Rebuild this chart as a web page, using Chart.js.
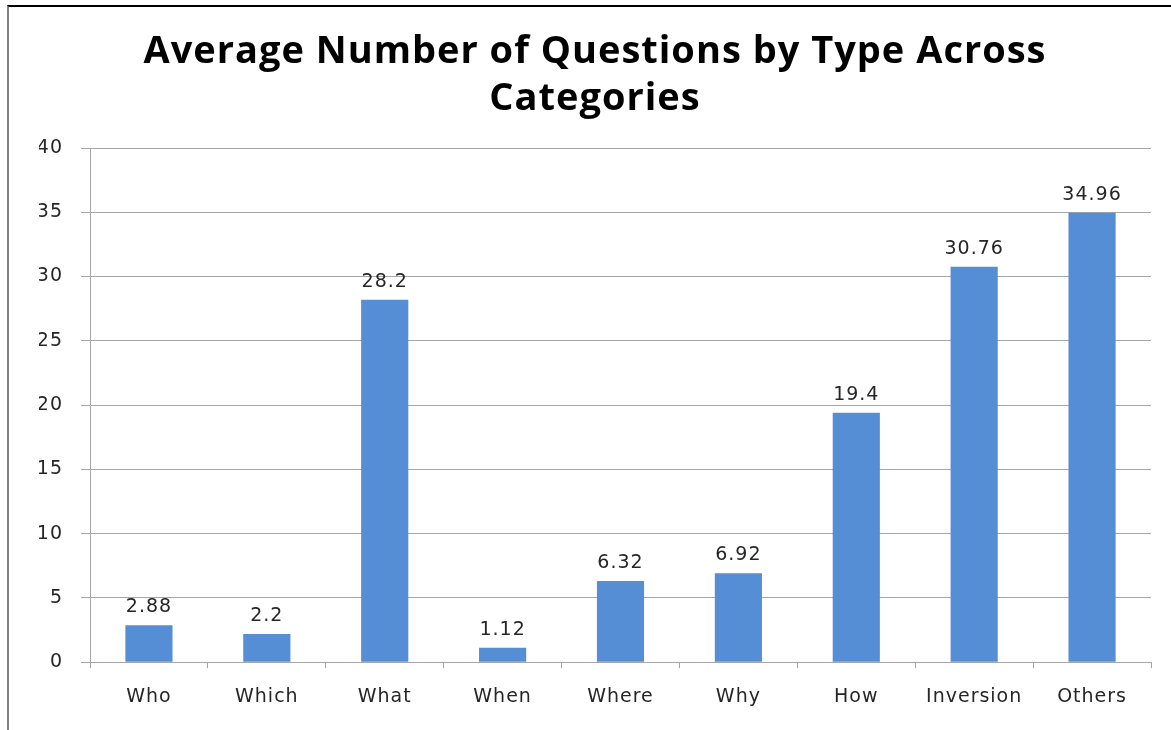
<!DOCTYPE html>
<html lang="en">
<head>
    <meta charset="UTF-8">
    <title>Average Number of Questions by Type Across Categories</title>
    <script src="https://cdn.jsdelivr.net/npm/chart.js"></script>
    <style>
        body {
            margin: 0;
            background-color: #ffffff;
        }
        #wrap {
            position: relative;
            width: 1171px;
            height: 730px;
            overflow: hidden;
        }
        #frame {
            position: absolute;
            left: 7px;
            top: 5px;
            right: 0;
            bottom: 0;
            border-top: 2px solid #000000;
            border-left: 2px solid #808080;
            pointer-events: none;
        }
        canvas {
            position: absolute;
            left: 0;
            top: 0;
        }
    </style>
</head>
<body>
<div id="wrap">
    <canvas id="myChart" width="1171" height="730"></canvas>
    <div id="frame"></div>
</div>

<script>
    const categorias = ['Who', 'Which', 'What', 'When', 'Where', 'Why', 'How', 'Inversion', 'Others'];
    const medias = [2.88, 2.2, 28.2, 1.12, 6.32, 6.92, 19.4, 30.76, 34.96];
    const yTicks = [0, 5, 10, 15, 20, 25, 30, 35, 40];
    const titulo = ['Average Number of Questions by Type Across', 'Categories'];

    const corBarra = '#558ed5';
    const corTexto = '#262626';
    const corGrade = '#a6a6a6';
    const fonteTexto = "'DejaVu Sans', Verdana, sans-serif";

    // espaçamento entre letras para se aproximar da fonte original
    const espacamento = {
        id: 'espacamento',
        beforeUpdate(chart) { chart.ctx.letterSpacing = '1px'; },
        beforeDraw(chart) { chart.ctx.letterSpacing = '1px'; }
    };

    // rótulos de valor acima de cada barra
    const rotulosValor = {
        id: 'rotulosValor',
        afterDatasetsDraw(chart) {
            const ctx = chart.ctx;
            const meta = chart.getDatasetMeta(0);
            ctx.save();
            ctx.letterSpacing = '1px';
            ctx.font = '19px ' + fonteTexto;
            ctx.fillStyle = corTexto;
            ctx.textAlign = 'center';
            ctx.textBaseline = 'alphabetic';
            meta.data.forEach((bar, i) => {
                ctx.fillText(String(medias[i]), bar.x, bar.y - 13);
            });
            ctx.restore();
        }
    };

    const ctx = document.getElementById('myChart').getContext('2d');

    new Chart(ctx, {
        type: 'bar',
        data: {
            labels: categorias,
            datasets: [{
                data: medias,
                backgroundColor: corBarra,
                borderWidth: 0,
                categoryPercentage: 0.4,
                barPercentage: 1.0
            }]
        },
        options: {
            responsive: false,
            animation: false,
            layout: {
                padding: { left: 39, right: 20, top: 0, bottom: 5 }
            },
            plugins: {
                legend: { display: false },
                tooltip: { enabled: false },
                title: {
                    display: true,
                    text: titulo,
                    color: '#000000',
                    font: { family: "'Open Sans', sans-serif", size: 38, weight: 'bold', lineHeight: 1.237 },
                    padding: { top: 29, bottom: 25 }
                }
            },
            scales: {
                x: {
                    offset: true,
                    grid: {
                        offset: true,
                        drawOnChartArea: false,
                        drawTicks: true,
                        tickLength: 6,
                        color: corGrade
                    },
                    border: { color: corGrade, width: 1 },
                    ticks: {
                        color: corTexto,
                        padding: 17,
                        font: { family: fonteTexto, size: 19 }
                    }
                },
                y: {
                    min: 0,
                    max: 40,
                    afterBuildTicks(scale) {
                        scale.ticks = yTicks.map(v => ({ value: v }));
                    },
                    afterFit(scale) {
                        scale.width = 51;
                    },
                    grid: {
                        color: corGrade,
                        drawTicks: true,
                        tickLength: 9
                    },
                    border: { color: corGrade, width: 1 },
                    ticks: {
                        color: corTexto,
                        padding: 18,
                        font: { family: fonteTexto, size: 19 }
                    }
                }
            }
        },
        plugins: [espacamento, rotulosValor]
    });
</script>
</body>
</html>
